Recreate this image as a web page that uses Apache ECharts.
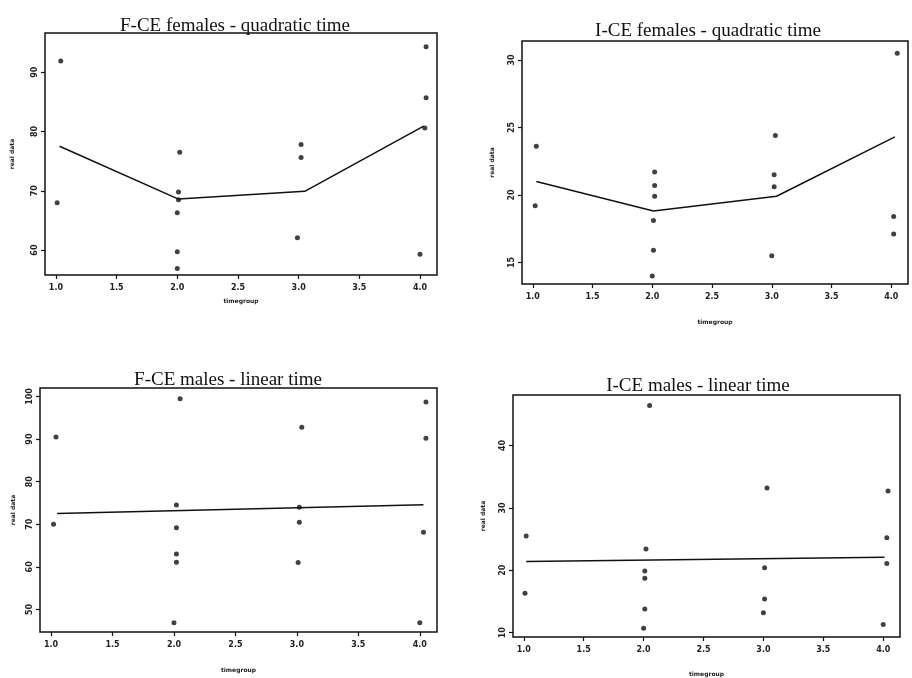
<!DOCTYPE html>
<html>
<head>
<meta charset="utf-8">
<script src="https://cdn.jsdelivr.net/npm/echarts@6/dist/echarts.min.js"></script>
<style>
  html, body { margin: 0; padding: 0; background: #fff; }
  #chart { width: 912px; height: 678px; }
</style>
</head>
<body>
<div id="chart"></div>
<script>
// panel titles
var titles = ['F-CE females - quadratic time', 'I-CE females - quadratic time',
              'F-CE males - linear time', 'I-CE males - linear time'];

// observed points, [timegroup, real data]
var fFemPts = [[1.04, 91.9], [1.01, 68.0], [2.02, 76.5], [2.01, 69.8], [2.01, 68.5], [2.0, 66.3],
               [2.0, 59.7], [2.0, 56.9], [3.02, 77.8], [3.02, 75.6], [2.99, 62.1],
               [4.05, 94.3], [4.05, 85.7], [4.04, 80.6], [4.0, 59.3]];
var iFemPts = [[1.03, 23.6], [1.02, 19.2], [2.02, 21.7], [2.02, 20.7], [2.02, 19.9], [2.01, 18.1],
               [2.01, 15.9], [2.0, 14.0], [3.03, 24.4], [3.02, 21.5], [3.02, 20.6], [3.0, 15.5],
               [4.05, 30.5], [4.02, 18.4], [4.02, 17.1]];
var fMalPts = [[1.04, 90.5], [1.02, 70.0], [2.05, 99.5], [2.02, 74.5], [2.02, 69.2], [2.02, 63.0],
               [2.02, 61.1], [2.0, 46.9], [3.04, 92.8], [3.02, 74.0], [3.02, 70.5], [3.01, 61.0],
               [4.05, 98.7], [4.05, 90.2], [4.03, 68.1], [4.0, 46.9]];
var iMalPts = [[1.02, 25.5], [1.01, 16.3], [2.05, 46.4], [2.02, 23.4], [2.01, 19.9], [2.01, 18.7],
               [2.01, 13.8], [2.0, 10.7], [3.03, 33.2], [3.01, 20.4], [3.01, 15.4], [3.0, 13.2],
               [4.04, 32.7], [4.03, 25.2], [4.03, 21.1], [4.0, 11.3]];

// fitted lines
var fFemFit = [[1.03, 77.5], [2.01, 68.6], [3.05, 69.9], [4.03, 80.9]];
var iFemFit = [[1.03, 21.0], [2.01, 18.8], [3.04, 19.9], [4.03, 24.3]];
var fMalFit = [[1.05, 72.5], [4.03, 74.6]];
var iMalFit = [[1.02, 21.4], [4.01, 22.1]];

// axis ticks
var xTicks = [1, 1.5, 2, 2.5, 3, 3.5, 4];
var yTicks = [[60, 70, 80, 90], [15, 20, 25, 30], [50, 60, 70, 80, 90, 100], [10, 20, 30, 40]];
var yRange = [[55.8, 96.6], [13.4, 31.4], [44.7, 102], [9.3, 48.1]];

var grids = [
  { left: 45, top: 33, width: 392, height: 242 },
  { left: 522, top: 41, width: 386, height: 243 },
  { left: 40, top: 388, width: 397, height: 244 },
  { left: 513, top: 395, width: 387, height: 243 }
];
var titlePos = [[230, 12], [703, 17], [223, 366], [693, 372]];
var xNameGap = [23, 35, 35, 34];
var yNameGap = [30, 27, 24, 27];

var chart = echarts.init(document.getElementById('chart'));

var option = {
  backgroundColor: '#fff',
  animation: false,
  title: titles.map(function (t, i) {
    return {
      text: t, left: titlePos[i][0], top: titlePos[i][1], textAlign: 'center',
      textStyle: { fontFamily: 'Liberation Serif', fontSize: 19, fontWeight: 'normal', color: '#111' }
    };
  }),
  grid: grids.map(function (g) {
    return Object.assign({ show: true, borderColor: '#111', borderWidth: 1.5, backgroundColor: 'transparent' }, g);
  }),
  xAxis: grids.map(function (g, i) {
    return {
      type: 'value', gridIndex: i, min: 0.91, max: 4.14,
      name: 'timegroup', nameLocation: 'middle', nameGap: xNameGap[i],
      nameTextStyle: { fontSize: 6, fontWeight: 'bold', color: '#222', fontFamily: 'DejaVu Sans' },
      axisLine: { show: false },
      splitLine: { show: false },
      axisTick: { show: true, length: 4, customValues: xTicks, lineStyle: { color: '#111', width: 1.2 } },
      axisLabel: {
        customValues: xTicks, fontSize: 8, fontWeight: 'bold', color: '#222', margin: 9,
        fontFamily: 'DejaVu Sans',
        formatter: function (v) { return v.toFixed(1); }
      }
    };
  }),
  yAxis: grids.map(function (g, i) {
    return {
      type: 'value', gridIndex: i, min: yRange[i][0], max: yRange[i][1],
      name: 'real data', nameLocation: 'middle', nameGap: yNameGap[i], nameRotate: 90,
      nameTextStyle: { fontSize: 6, fontWeight: 'bold', color: '#222', fontFamily: 'DejaVu Sans' },
      axisLine: { show: false },
      splitLine: { show: false },
      axisTick: { show: true, length: 4, customValues: yTicks[i], lineStyle: { color: '#111', width: 1.2 } },
      axisLabel: {
        customValues: yTicks[i], rotate: 90, fontSize: 8, fontWeight: 'bold', color: '#222', margin: 6,
        fontFamily: 'DejaVu Sans'
      }
    };
  }),
  series: []
};

var pts = [fFemPts, iFemPts, fMalPts, iMalPts];
var fits = [fFemFit, iFemFit, fMalFit, iMalFit];
pts.forEach(function (p, i) {
  option.series.push({
    type: 'scatter', xAxisIndex: i, yAxisIndex: i, data: p,
    symbolSize: 5, itemStyle: { color: '#111' }
  });
  option.series.push({
    type: 'line', xAxisIndex: i, yAxisIndex: i, data: fits[i],
    showSymbol: false, lineStyle: { color: '#111', width: 1.5 }
  });
});

chart.setOption(option);
</script>
</body>
</html>
